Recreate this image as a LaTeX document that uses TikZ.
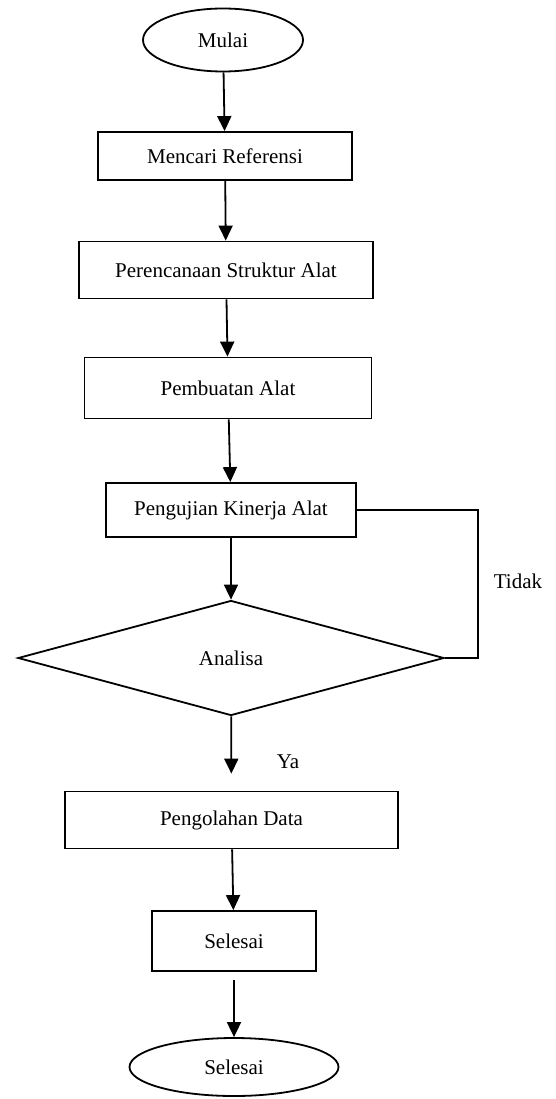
\documentclass[tikz,border=0pt]{standalone}
\usepackage{fontspec}
\setmainfont{Liberation Serif}
\usetikzlibrary{arrows.meta,positioning,shapes.geometric}

\tikzset{
  kotak/.style={draw, line width=1.8pt, rectangle, inner sep=0pt},
  oval/.style={draw, line width=1.8pt, ellipse, inner sep=0pt},
  belah/.style={draw, line width=1.8pt, diamond, inner sep=0pt},
  panah/.style={line width=1.8pt, -{Triangle[length=15pt,width=14pt]}},
  garis/.style={line width=1.6pt},
}

\begin{document}
\begin{tikzpicture}[x=1pt, y=-1pt, font=\fontsize{21}{25}\selectfont]
    \useasboundingbox (0,0) rectangle (555,1099);

    \node[oval, minimum width=160pt, minimum height=63pt] (mulai) at (223,40) {Mulai};
    \node[kotak, minimum width=254pt, minimum height=48pt] (cari) at (225,156) {Mencari Referensi};
    \node[kotak, minimum width=294pt, minimum height=57pt] (rencana) at (226,270) {Perencanaan Struktur Alat};
    \node[kotak, minimum width=287pt, minimum height=61pt] (buat) at (228,388) {Pembuatan Alat};
    \node[kotak, minimum width=250pt, minimum height=54pt] (uji) at (231,510) {Pengujian Kinerja Alat};
    \node[belah, minimum width=426pt, minimum height=115pt] (analisa) at (231,658) {Analisa};
    \node[kotak, minimum width=333pt, minimum height=57pt] (olah) at (231.5,820) {Pengolahan Data};
    \node[kotak, minimum width=164pt, minimum height=60pt] (selesai) at (234,941) {Selesai};
    \node[oval, minimum width=209pt, minimum height=58pt] (akhir) at (234,1067) {Selesai};

    \node (ya) at (288,762) {Ya};
    \node (tidak) at (518,581) {Tidak};
    \coordinate (balik) at (478,0);

    \draw[panah] (mulai) -- (cari);
    \draw[panah] (cari) -- (rencana);
    \draw[panah] (rencana) -- (buat);
    \draw[panah] (buat) -- (uji);
    \draw[panah] (uji) -- (analisa);
    \draw[panah, shorten >=17pt] (analisa) -- (olah);
    \draw[panah] (olah) -- (selesai);
    \draw[panah, shorten <=8pt] (selesai) -- (akhir);

    % kembali ke pengujian
    \draw[garis] (uji.east) -- (uji.east -| balik) -- (analisa.east -| balik) -- (analisa.east);
\end{tikzpicture}
\end{document}
